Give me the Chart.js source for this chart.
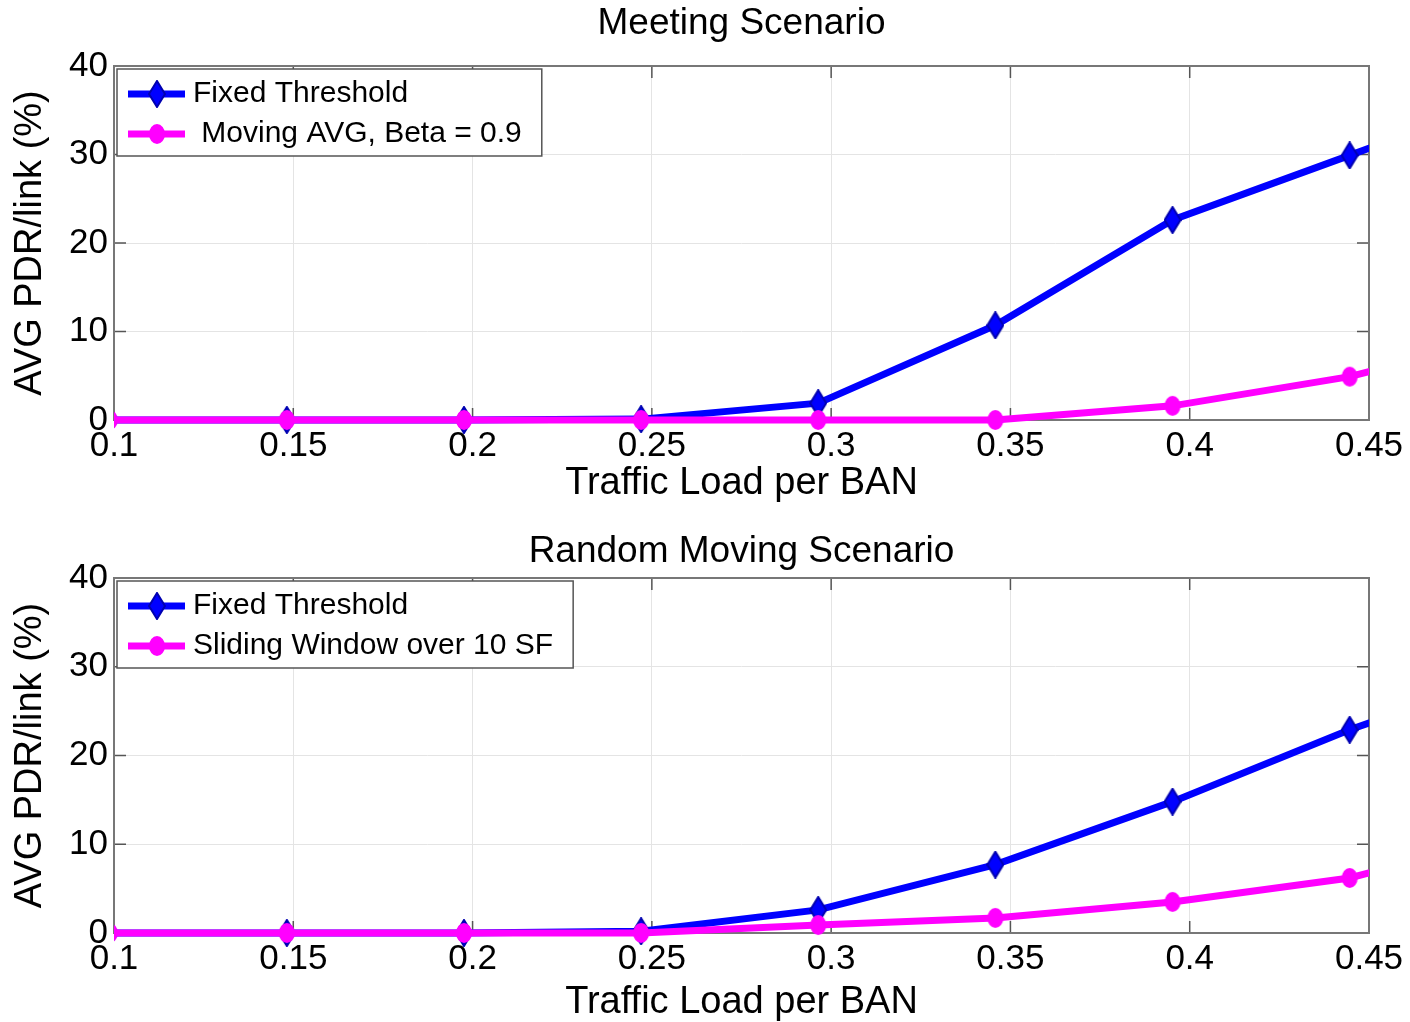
<!DOCTYPE html>
<html>
<head>
<meta charset="utf-8">
<title>Meeting / Random Moving Scenario</title>
<script src="https://cdn.jsdelivr.net/npm/chart.js@4.4.1/dist/chart.umd.min.js"></script>
<style>
  html, body { margin: 0; padding: 0; background: #fff; }
  body { width: 1410px; height: 1022px; position: relative; overflow: hidden; }
  .panel { position: absolute; left: 0; width: 1410px; }
  #topPanel { top: 0; height: 510px; }
  #bottomPanel { top: 510px; height: 512px; }
</style>
</head>
<body>
<div class="panel" id="topPanel"><canvas id="meetingChart"></canvas></div>
<div class="panel" id="bottomPanel"><canvas id="randomChart"></canvas></div>
<script>
// Data (traffic load per BAN on x, AVG PDR/link % on y)
const xLoad = [0.0988, 0.1482, 0.1976, 0.2470, 0.2964, 0.3458, 0.3952, 0.4446, 0.4940];

const meetingFixed     = [0, 0, 0, 0.1, 1.9, 10.7, 22.6, 29.9, 37.3];
const meetingMovingAvg = [0, 0, 0, 0, 0, 0, 1.6, 4.9, 10.2];

const randomFixed   = [0, 0, 0, 0.2, 2.6, 7.7, 14.8, 22.9, 29.9];
const randomSliding = [0, 0, 0, 0, 0.9, 1.7, 3.5, 6.2, 11.5];

const xTicks = [0.1, 0.15, 0.2, 0.25, 0.3, 0.35, 0.4, 0.45];
const yTicks = [0, 10, 20, 30, 40];

const FONT = "'Liberation Sans', Arial, Helvetica, sans-serif";
const BLUE = '#0000ff';
const MAGENTA = '#ff00ff';

Chart.defaults.font.family = FONT;
Chart.defaults.color = '#000';

// marker images (MATLAB-like diamond and filled circle)
function diamondMarker() {
    const c = document.createElement('canvas');
    c.width = 18; c.height = 28;
    const g = c.getContext('2d');
    g.beginPath();
    g.moveTo(9, 1); g.lineTo(17, 14); g.lineTo(9, 27); g.lineTo(1, 14);
    g.closePath();
    g.fillStyle = BLUE;
    g.fill();
    g.strokeStyle = '#0000b0';
    g.lineWidth = 2;
    g.stroke();
    return c;
}

function circleMarker() {
    const c = document.createElement('canvas');
    c.width = 18; c.height = 22;
    const g = c.getContext('2d');
    g.beginPath();
    g.ellipse(9, 11, 8, 10, 0, 0, Math.PI * 2);
    g.fillStyle = MAGENTA;
    g.fill();
    return c;
}

const diamond = diamondMarker();
const circle = circleMarker();

function toPoints(values) {
    return xLoad.map((x, i) => ({ x: x, y: values[i] }));
}

// axes box + inward tick marks
const boxPlugin = {
    id: 'matlabBox',
    beforeDatasetsDraw(chart) {
        const { ctx, chartArea: a, scales } = chart;
        ctx.save();
        ctx.strokeStyle = '#555';
        ctx.lineWidth = 1.5;
        xTicks.forEach(v => {
            const px = scales.x.getPixelForValue(v);
            ctx.beginPath();
            ctx.moveTo(px, a.top); ctx.lineTo(px, a.top + 12);
            ctx.moveTo(px, a.bottom); ctx.lineTo(px, a.bottom - 12);
            ctx.stroke();
        });
        yTicks.forEach(v => {
            const py = scales.y.getPixelForValue(v);
            ctx.beginPath();
            ctx.moveTo(a.left, py); ctx.lineTo(a.left + 12, py);
            ctx.moveTo(a.right, py); ctx.lineTo(a.right - 12, py);
            ctx.stroke();
        });
        ctx.strokeStyle = '#777';
        ctx.lineWidth = 2;
        ctx.strokeRect(a.left, a.top, a.right - a.left, a.bottom - a.top);
        ctx.restore();
    }
};

// legend box inside the axes, top-left
const boxLegend = {
    id: 'boxLegend',
    afterDraw(chart) {
        const { ctx, chartArea: a } = chart;
        const sets = chart.data.datasets;
        ctx.save();
        ctx.font = '30px ' + FONT;
        const textW = Math.max(...sets.map(d => ctx.measureText(d.label).width));
        const left = a.left + 3, top = a.top + 3;
        const w = 76 + textW + 20, rowH = 40, h = 87;
        ctx.fillStyle = '#fff';
        ctx.fillRect(left, top, w, h);
        ctx.strokeStyle = '#555';
        ctx.lineWidth = 1.5;
        ctx.strokeRect(left, top, w, h);
        sets.forEach((d, i) => {
            const cy = top + 25 + i * rowH;
            ctx.strokeStyle = d.borderColor;
            ctx.lineWidth = d.borderWidth;
            ctx.beginPath();
            ctx.moveTo(left + 11, cy); ctx.lineTo(left + 68, cy);
            ctx.stroke();
            const m = d.pointStyle;
            ctx.drawImage(m, left + 40 - m.width / 2, cy - m.height / 2);
            ctx.fillStyle = '#000';
            ctx.textBaseline = 'middle';
            ctx.textAlign = 'left';
            ctx.fillText(d.label, left + 76, cy);
        });
        ctx.restore();
    }
};

function makeChart(id, titleText, fixedVals, otherVals, otherLabel, titlePad, xTitlePad, xAxisH) {
    const ctx = document.getElementById(id);
    if (!ctx) return;

    const lineCommon = {
        borderWidth: 7,
        pointRadius: 3,
        pointHoverRadius: 3,
        tension: 0,
        fill: false,
        clip: { left: 0, right: 0, top: 30, bottom: 20 }
    };

    new Chart(ctx, {
        type: 'line',
        data: {
            datasets: [{
                ...lineCommon,
                label: 'Fixed Threshold',
                data: toPoints(fixedVals),
                borderColor: BLUE,
                backgroundColor: BLUE,
                pointStyle: diamond,
                order: 1
            }, {
                ...lineCommon,
                label: otherLabel,
                data: toPoints(otherVals),
                borderColor: MAGENTA,
                backgroundColor: MAGENTA,
                pointStyle: circle,
                order: 0
            }]
        },
        options: {
            responsive: true,
            maintainAspectRatio: false,
            animation: false,
            layout: { padding: { left: 0, right: 41, top: 0, bottom: 0 } },
            plugins: {
                legend: { display: false },
                tooltip: { enabled: false },
                title: {
                    display: true,
                    fullSize: false,
                    text: titleText,
                    color: '#000',
                    font: { size: 37, weight: 'normal', lineHeight: 1.2 },
                    padding: titlePad
                }
            },
            scales: {
                x: {
                    type: 'linear',
                    min: 0.1,
                    max: 0.45,
                    afterBuildTicks: s => { s.ticks = xTicks.map(v => ({ value: v })); },
                    ticks: {
                        font: { size: 35 },
                        color: '#000',
                        padding: 5,
                        maxRotation: 0,
                        autoSkip: false,
                        callback: v => String(+Number(v).toFixed(2))
                    },
                    grid: { color: '#e4e4e4', lineWidth: 1, drawTicks: false },
                    border: { display: false },
                    title: {
                        display: true,
                        text: 'Traffic Load per BAN',
                        color: '#000',
                        font: { size: 38, lineHeight: 1 },
                        padding: { top: 0, bottom: xTitlePad }
                    },
                    afterFit: s => { s.height = xAxisH; }
                },
                y: {
                    min: 0,
                    max: 40,
                    afterBuildTicks: s => { s.ticks = yTicks.map(v => ({ value: v })); },
                    ticks: {
                        font: { size: 35 },
                        color: '#000',
                        padding: 6
                    },
                    grid: { color: '#e4e4e4', lineWidth: 1, drawTicks: false },
                    border: { display: false },
                    title: {
                        display: true,
                        text: 'AVG PDR/link (%)',
                        color: '#000',
                        font: { size: 38, lineHeight: 1 },
                        padding: { top: 12, bottom: 0 }
                    },
                    afterFit: s => { s.width = 114; }
                }
            }
        },
        plugins: [boxPlugin, boxLegend]
    });
}

document.addEventListener('DOMContentLoaded', function() {
    makeChart('meetingChart', 'Meeting Scenario', meetingFixed, meetingMovingAvg,
        ' Moving AVG, Beta = 0.9', { top: 2, bottom: 19.6 }, 7, 90);
    makeChart('randomChart', 'Random Moving Scenario', randomFixed, randomSliding,
        'Sliding Window over 10 SF', { top: 20, bottom: 3.6 }, 0, 89);
});
</script>
</body>
</html>
